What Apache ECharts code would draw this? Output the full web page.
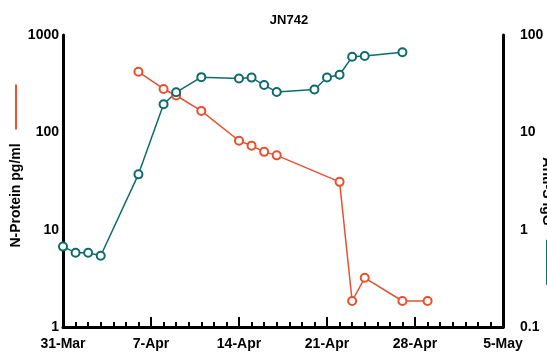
<!DOCTYPE html>
<html>
<head>
<meta charset="utf-8">
<style>
  html, body { margin: 0; padding: 0; background: #ffffff; }
  #chart { width: 547px; height: 358px; }
</style>
<script src="https://cdn.jsdelivr.net/npm/echarts@6/dist/echarts.min.js"></script>
</head>
<body>
<div id="chart"></div>
<script>
// Days counted from 31-Mar
const dateLabels = ['31-Mar', '7-Apr', '14-Apr', '21-Apr', '28-Apr', '5-May'];

// N-Protein (pg/ml), left axis
const nProteinDays = [6, 8, 9, 11, 14, 15, 16, 17, 22, 23, 24, 27, 29];
const nProteinValues = [419, 279, 239, 166, 82, 73, 63, 58, 31, 1.85, 3.2, 1.85, 1.85];

// Antibody level, right axis
const antibodyDays = [0, 1, 2, 3, 6, 8, 9, 11, 14, 15, 16, 17, 20, 21, 22, 23, 24, 27];
const antibodyValues = [0.67, 0.58, 0.58, 0.54, 3.7, 19.4, 25.8, 36.9, 35.7, 36.5, 30.6, 26.0, 27.5, 36.6, 39.0, 59.7, 60.8, 66.4];

const RED = '#E8502F';
const TEAL = '#0E6B6B';
const FONT = 'Liberation Sans, Arial, sans-serif';

const pairs = (xs, ys) => xs.map((x, i) => [x, ys[i]]);

const chart = echarts.init(document.getElementById('chart'), null, { renderer: 'canvas' });

// Log axis with a rotated name followed by a short coloured key line
const logAxis = (min, max, nameText, color, rotate, gap, pad, labelMargin) => ({
  type: 'log',
  logBase: 10,
  min: min,
  max: max,
  name: '{t|' + nameText + '}{g|}{l|}',
  nameLocation: 'middle',
  nameRotate: rotate,
  nameGap: gap,
  nameMoveOverlap: false,
  nameTextStyle: {
    padding: pad,
    rich: {
      t: { fontFamily: FONT, fontWeight: 'bold', fontSize: 14, color: '#000' },
      g: { width: 14, height: 2 },
      l: { width: 45, height: 2, backgroundColor: color }
    }
  },
  axisLine: { show: true, lineStyle: { color: '#000', width: 3 } },
  axisTick: { show: false },
  minorTick: { show: false },
  splitLine: { show: false },
  axisLabel: {
    fontFamily: FONT, fontWeight: 'bold', fontSize: 14, color: '#000', margin: labelMargin,
    formatter: v => String(+v.toPrecision(3))
  }
});

chart.setOption({
  animation: false,
  backgroundColor: '#ffffff',
  title: {
    text: 'JN742',
    left: 284,
    textAlign: 'center',
    top: 9,
    textStyle: { fontFamily: FONT, fontWeight: 'bold', fontSize: 13, color: '#000' }
  },
  grid: { left: 63, right: 44, top: 35, bottom: 31, containLabel: false, outerBoundsMode: 'none' },
  xAxis: {
    type: 'value',
    min: 0,
    max: 35,
    interval: 7,
    axisLine: { show: true, onZero: false, lineStyle: { color: '#000', width: 3 } },
    axisTick: { show: true, inside: true, length: 10, lineStyle: { color: '#000', width: 2 } },
    minorTick: { show: true, splitNumber: 7, length: 5, lineStyle: { color: '#000', width: 2 } },
    splitLine: { show: false },
    axisLabel: {
      fontFamily: FONT, fontWeight: 'bold', fontSize: 14, color: '#000', margin: 10,
      formatter: v => dateLabels[Math.round(v / 7)] || ''
    }
  },
  yAxis: [
    logAxis(1, 1000, 'N-Protein pg/ml', RED, 90, 40, [0, 0, 0, 30], 4),
    logAxis(0.1, 100, 'Anti-S IgG', TEAL, -90, 37, [0, 0, 0, 80], 17)
  ],
  series: [
    {
      name: 'N-Protein',
      type: 'line',
      yAxisIndex: 0,
      data: pairs(nProteinDays, nProteinValues),
      symbol: 'emptyCircle',
      symbolSize: 8,
      showAllSymbol: true,
      lineStyle: { color: RED, width: 1.5 },
      itemStyle: { color: RED, borderWidth: 1.5 }
    },
    {
      name: 'Anti-S IgG',
      type: 'line',
      yAxisIndex: 1,
      data: pairs(antibodyDays, antibodyValues),
      symbol: 'emptyCircle',
      symbolSize: 8,
      showAllSymbol: true,
      lineStyle: { color: TEAL, width: 1.5 },
      itemStyle: { color: TEAL, borderWidth: 1.5 }
    }
  ]
});
</script>
</body>
</html>
